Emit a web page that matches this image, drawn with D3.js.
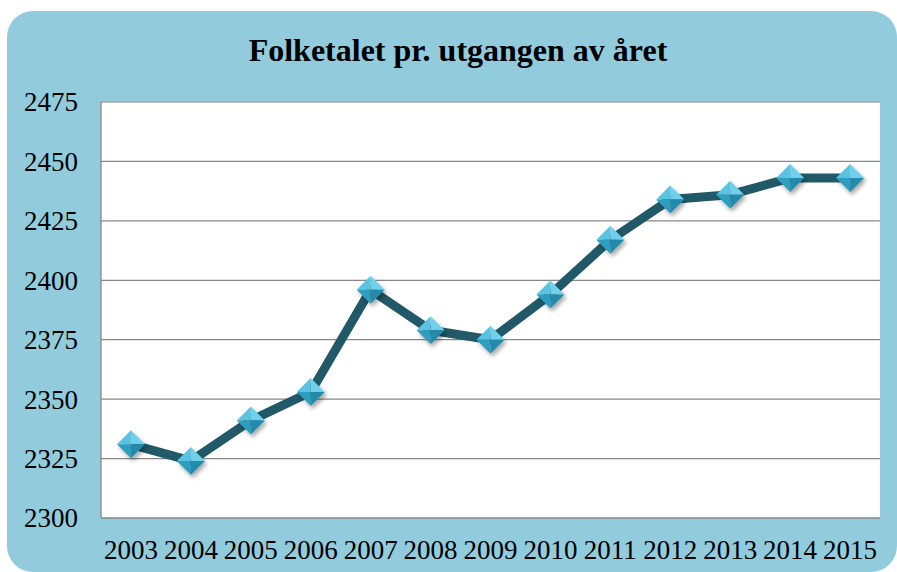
<!DOCTYPE html>
<html>
<head>
<meta charset="utf-8">
<script src="https://cdn.jsdelivr.net/npm/d3@7"></script>
<style>
  body { margin: 0; background: #fff; }
  svg text { font-family: 'Liberation Serif', 'Times New Roman', serif; }
</style>
</head>
<body>
<div id="chart"></div>
<script>
// donnees
var years = ["2003","2004","2005","2006","2007","2008","2009","2010","2011","2012","2013","2014","2015"];
var folketal = [2331, 2324, 2341, 2353, 2396, 2379, 2375, 2394, 2417, 2434, 2436, 2443, 2443];
var yTicks = [2300, 2325, 2350, 2375, 2400, 2425, 2450, 2475];
var title = "Folketalet pr. utgangen av året";

var width = 897, height = 572;
var margin = {left: 101, right: 17, top: 102, bottom: 54};

var svg = d3.select("#chart").append("svg")
    .attr("width", width)
    .attr("height", height);

var defs = svg.append("defs");
var f = defs.append("filter").attr("id", "shadow")
    .attr("x", "-50%").attr("y", "-50%").attr("width", "200%").attr("height", "200%");
f.append("feDropShadow").attr("dx", 2).attr("dy", 3).attr("stdDeviation", 2)
    .attr("flood-color", "#000").attr("flood-opacity", 0.35);

// fond bleu arrondi
svg.append("rect")
    .attr("x", 7).attr("y", 11)
    .attr("width", 890).attr("height", 561)
    .attr("rx", 26).attr("ry", 26)
    .attr("fill", "#92cbdc");

var x = d3.scaleBand()
    .domain(years)
    .range([margin.left, width - margin.right]);

var y = d3.scaleLinear()
    .domain([2300, 2475])
    .range([height - margin.bottom, margin.top]);

// zone du graphique
svg.append("rect")
    .attr("x", margin.left).attr("y", margin.top)
    .attr("width", width - margin.right - margin.left)
    .attr("height", y(2300) - y(2475))
    .attr("fill", "#fff");

// lignes de grille
svg.append("g").selectAll("line")
    .data(yTicks)
    .join("line")
    .attr("x1", margin.left).attr("x2", width - margin.right)
    .attr("y1", d => y(d)).attr("y2", d => y(d))
    .attr("stroke", d => d == 2475 ? "#a6a6a6" : "#878787")
    .attr("stroke-width", 1.3);

svg.append("line")
    .attr("x1", margin.left).attr("x2", margin.left)
    .attr("y1", y(2475)).attr("y2", y(2300))
    .attr("stroke", "#878787").attr("stroke-width", 1.3);

// axe y
var yAxis = svg.append("g")
    .attr("transform", "translate(" + (margin.left - 23) + ",0)")
    .call(d3.axisLeft(y).tickValues(yTicks).tickFormat(d3.format("d")).tickSize(0).tickPadding(0));
yAxis.select(".domain").remove();
yAxis.selectAll("text")
    .style("font-size", "27px")
    .attr("fill", "#000")
    .attr("dy", "0.33em");

// axe x
var xAxis = svg.append("g")
    .attr("transform", "translate(0," + (y(2300) + 21) + ")")
    .call(d3.axisBottom(x).tickSize(0).tickPadding(0));
xAxis.select(".domain").remove();
xAxis.selectAll("text")
    .style("font-size", "27px")
    .attr("fill", "#000")
    .attr("dy", "0.75em");

// titre
svg.append("text")
    .attr("x", 458).attr("y", 61)
    .attr("text-anchor", "middle")
    .style("font-weight", "bold")
    .style("font-size", "32px")
    .text(title);

// la courbe
var cx = (d, i) => x(years[i]) + x.bandwidth() / 2;
var line = d3.line()
    .x((d, i) => cx(d, i))
    .y(d => y(d));

svg.append("path")
    .datum(folketal)
    .attr("d", line)
    .attr("fill", "none")
    .attr("stroke", "#215968")
    .attr("stroke-width", 9)
    .attr("stroke-linejoin", "round");

// marqueurs en losange (4 facettes)
var r = 14;
var facets = [
  {pts: [[0,-r],[r,0],[0,0]], c: "#6fd0ec"},
  {pts: [[0,-r],[-r,0],[0,0]], c: "#5ac3e2"},
  {pts: [[-r,0],[0,r],[0,0]], c: "#2f9ec0"},
  {pts: [[r,0],[0,r],[0,0]], c: "#248aab"}
];

var m = svg.append("g").selectAll("g")
    .data(folketal)
    .join("g")
    .attr("transform", (d, i) => "translate(" + cx(d, i) + "," + y(d) + ")")
    .attr("filter", "url(#shadow)");

m.selectAll("path")
    .data(facets)
    .join("path")
    .attr("d", p => "M" + p.pts.map(q => q.join(",")).join("L") + "Z")
    .attr("fill", p => p.c);
</script>
</body>
</html>
